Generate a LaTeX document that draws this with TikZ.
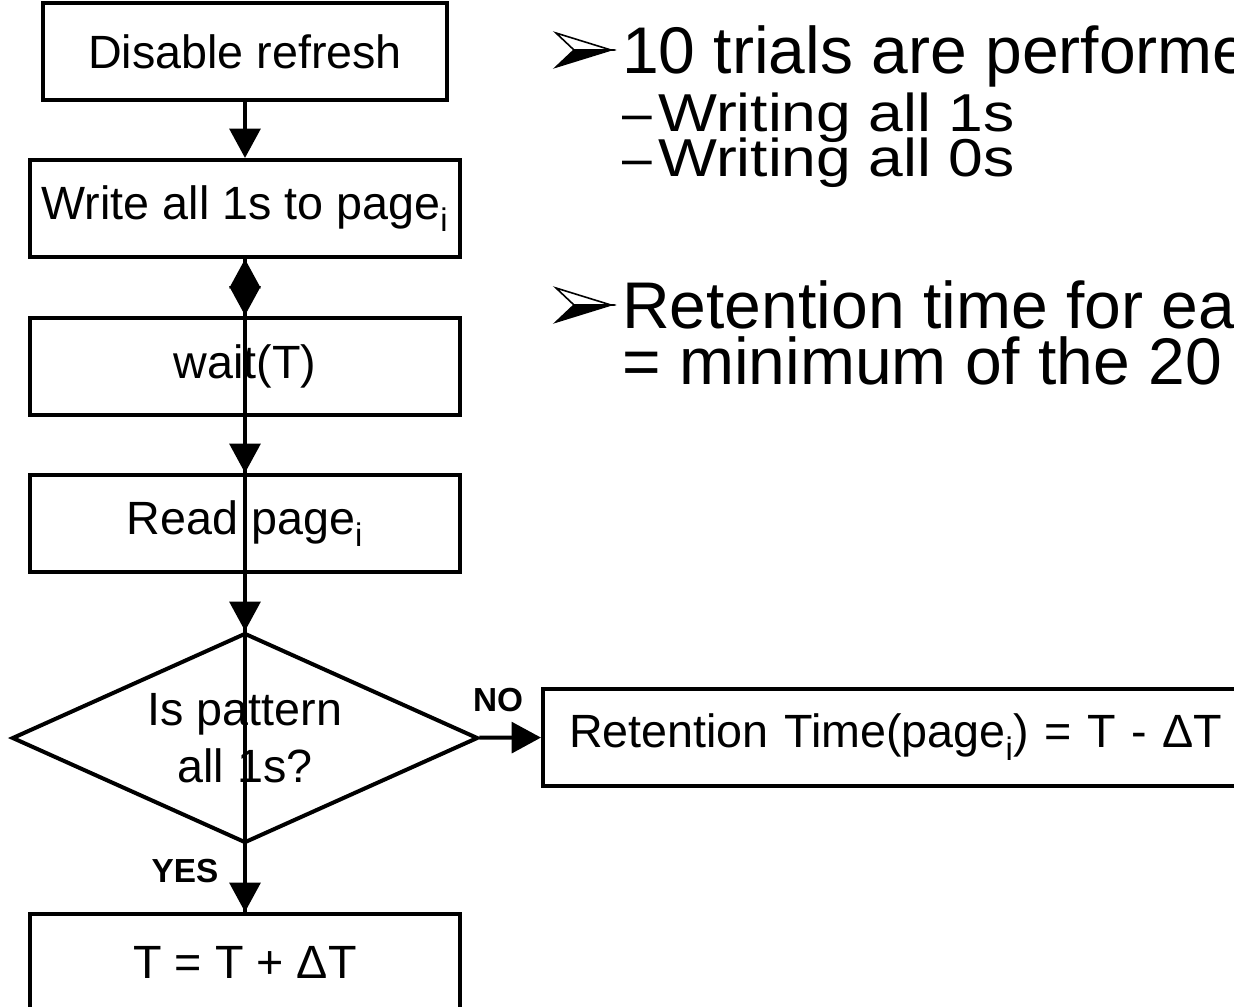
\documentclass[tikz,border=0pt]{standalone}
\usepackage{fontspec}
\setmainfont{Liberation Sans}
\newfontfamily\widefont[FakeStretch=1.17]{Liberation Sans}
\usetikzlibrary{arrows.meta,shapes.geometric}
\begin{document}
\begin{tikzpicture}[x=0.75pt,y=-0.75pt,
  flowtext/.style={font=\fontsize{35}{43}\selectfont},
  box/.style={draw, line width=3pt, flowtext, minimum width=322.5pt, minimum height=72.75pt, inner sep=0pt},
  decision/.style={draw, line width=3pt, flowtext, shape=diamond, shape aspect=2.2, minimum width=349.5pt, minimum height=157.5pt, inner sep=0pt, align=center},
  conn/.style={line width=3pt, -{Triangle[length=22pt,width=23pt]}},
  lbl/.style={font=\fontsize{25}{28}\selectfont\bfseries, inner sep=0pt},
  bigtext/.style={font=\fontsize{49.5}{49.5}\selectfont, anchor=base west, inner sep=0pt},
  subtext/.style={font=\fontsize{40}{40}\selectfont, anchor=base west, inner sep=0pt},
  arrowlight/.style={draw, fill=white, line width=1.2pt, line join=miter},
  arrowdark/.style={draw, fill=black, line width=1.2pt, line join=miter}
]
\useasboundingbox (0,0) rectangle (1234,1006);
\clip (0,0) rectangle (1234,1006);

% flowchart steps
\node (b1) [box, minimum width=303pt] at (245,51.5) {Disable refresh};
\node (b2) [box] at (245,208.5) {Write all 1s to page\textsubscript{i}};
\node (b3) [box] at (245,366) {wait(T)};
\node (b4) [box] at (245,523.5) {Read page\textsubscript{i}};
\node (dec) [decision] at (245,738) {Is pattern\\all 1s?};
\node (b5) [box] at (245,962.5) {T = T + ΔT};
\node (ret) [box, anchor=west, minimum width=0pt, text width=540pt, inner xsep=19.5pt, align=left] at (541,737) {Retention Time(page\textsubscript{i}) = T - ΔT};

% connectors
\draw[conn] (b1) -- (b2);
\draw[conn] (b5) -- (b2);
\draw[conn] (b2) -- (b3);
\draw[conn] (b3) -- (b4);
\draw[conn] (b4) -- (dec);
\draw[conn] (dec) -- (b5);
\draw[conn] (dec) -- (ret);
\node (no) [lbl] at (498,700) {NO};
\node (yes) [lbl] at (185,871) {YES};

% 3-D arrowhead bullets: lit upper facet, dark lower facet
\foreach \by in {50,305}{
  \draw[arrowlight] (556,\by-17) -- (611,\by) -- (574,\by) -- cycle;
  \draw[arrowdark] (574,\by) -- (611,\by) -- (556,\by+17) -- cycle;
}

% notes
\node (t1) [bigtext] at (622,74) {10 trials are performed};
\node (d1) [subtext] at (622,131) {–};
\node (t1a) [subtext] at (658,131) {\widefont Writing all 1s};
\node (d2) [subtext] at (622,176) {–};
\node (t1b) [subtext] at (658,176) {\widefont Writing all 0s};
\node (t2) [bigtext] at (622,328) {Retention time for each};
\node (t2b) [bigtext] at (622,384) {= minimum of the 20};
\end{tikzpicture}
\end{document}
